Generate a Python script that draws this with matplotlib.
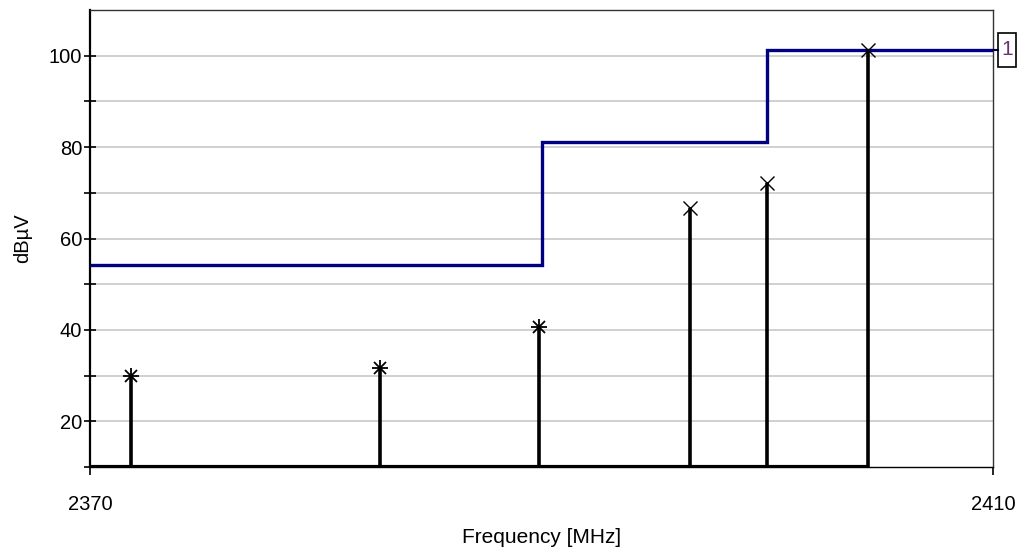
import matplotlib
matplotlib.use("Agg")
import matplotlib.pyplot as plt
from matplotlib.patches import Rectangle
from matplotlib.transforms import IdentityTransform

# measured peaks
freq = [2371.8, 2382.85, 2389.9, 2396.6, 2400.0, 2404.45]
level = [30.0, 31.6, 40.7, 66.6, 72.1, 101.3]
kind = ["star", "star", "star", "cross", "cross", "cross"]

# limit line (step)
limit_edges = [2370, 2390, 2400, 2410]
limit_vals = [54.3, 81.1, 101.3]

yticks_major = [20, 40, 60, 80, 100]
yticks_minor = [10, 30, 50, 70, 90]

plt.rcParams['font.family'] = ['Liberation Sans', 'DejaVu Sans']

fig = plt.figure(figsize=(10.19, 5.51), dpi=100)
ax = fig.add_axes([90/1019, 1-467/551, 903/1019, 457/551])
ax.set_xlim(2370, 2410)
ax.set_ylim(10, 110)

for y in range(20, 110, 10):
    ax.axhline(y, color='#c8c8c8', lw=1.2, zorder=1)

ax.stairs(limit_vals, limit_edges, color='#000080', lw=2.4, baseline=None, zorder=3)

ax.plot([2370, max(freq)], [10, 10], color='black', lw=3, zorder=4, solid_capstyle='butt')
ax.vlines(freq, 10, level, color='black', lw=2.6, zorder=4)

for f, v, k in zip(freq, level, kind):
    if k == "star":
        ax.plot(f, v, marker='+', ms=11, mew=1.3, color='black', zorder=5)
        ax.plot(f, v, marker='x', ms=8, mew=1.3, color='black', zorder=5)
    else:
        ax.plot(f, v, marker='x', ms=10, mew=1.0, color='black', zorder=5)

ax.set_yticks(yticks_major)
ax.set_yticks(yticks_minor, minor=True)
ax.set_xticks([2370, 2410])
ax.tick_params(axis='y', which='both', direction='inout', length=9, width=1.2,
               labelsize=14.5, pad=1, colors='black')
ax.tick_params(axis='x', direction='out', length=6, width=1.2, labelsize=14.5, pad=14)

for s in ['top', 'right']:
    ax.spines[s].set_color('#333333')
    ax.spines[s].set_linewidth(1.0)
ax.spines['left'].set_linewidth(1.6)
ax.spines['bottom'].set_linewidth(1.0)

ax.set_xlabel('Frequency [MHz]', fontsize=15, labelpad=10)
ax.set_ylabel('dBµV', fontsize=14.5, labelpad=12)

# limit line marker box "1" at right edge
px, py = ax.transData.transform((limit_edges[-1], limit_vals[-1]))
box_w, box_h, gap = 18, 34, 5
fig.add_artist(plt.Line2D([px, px + gap], [py, py], color='#000040', lw=1.5,
                          transform=IdentityTransform()))
fig.add_artist(Rectangle((px + gap, py - box_h / 2), box_w, box_h, fill=True,
                         fc='white', ec='black', lw=1.2, transform=IdentityTransform()))
fig.text((px + gap + box_w / 2) / fig.bbox.width, py / fig.bbox.height, '1',
         ha='center', va='center', fontsize=15, color='#703070')

fig.savefig('out.png', dpi=100)
